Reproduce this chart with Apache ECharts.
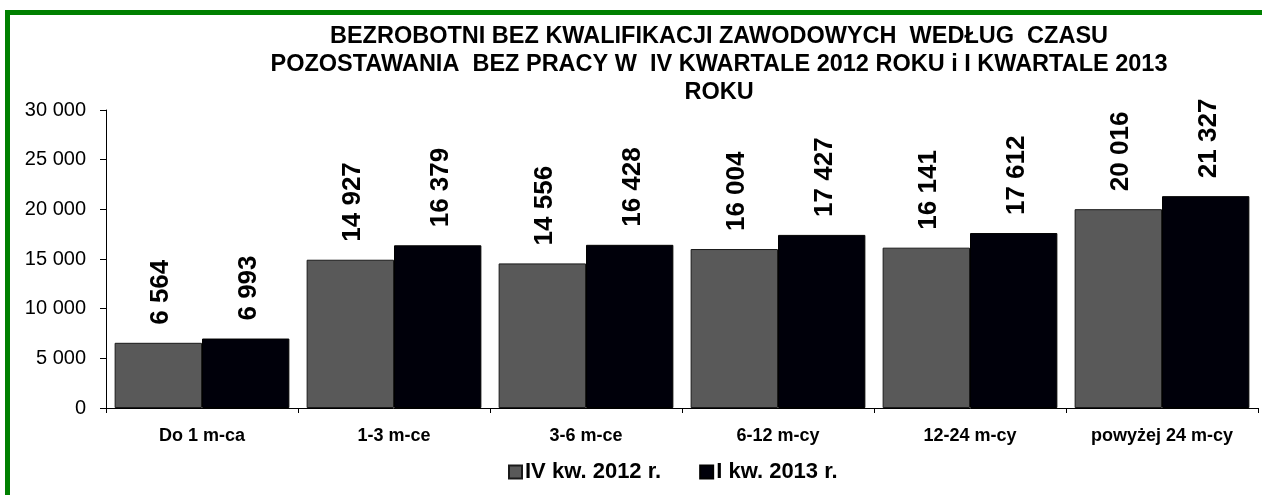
<!DOCTYPE html>
<html>
<head>
<meta charset="utf-8">
<script src="https://cdn.jsdelivr.net/npm/echarts@6/dist/echarts.min.js"></script>
<style>
    body { margin: 0; background: #fff; }
    #chart { width: 1262px; height: 495px; }
</style>
</head>
<body>
<div id="chart"></div>
<script>
    // dane z wykresu
    var categories = ['Do 1 m-ca', '1-3 m-ce', '3-6 m-ce', '6-12 m-cy', '12-24 m-cy', 'powyżej 24 m-cy'];
    var kw4_2012 = [6564, 14927, 14556, 16004, 16141, 20016];
    var kw1_2013 = [6993, 16379, 16428, 17427, 17612, 21327];
    var seriesNames = ['IV kw. 2012 r.', 'I kw. 2013 r.'];

    // 16379 -> "16 379"
    function fmt(v) {
        return String(v).replace(/\B(?=(\d{3})+(?!\d))/g, ' ');
    }

    var chart = echarts.init(document.getElementById('chart'));
    var labelStyle = {
        show: true,
        position: 'top',
        rotate: 90,
        distance: 17,
        offset: [1, 3],
        align: 'left',
        verticalAlign: 'middle',
        fontFamily: 'Liberation Sans, Arial',
        fontWeight: 'bold',
        fontSize: 26,
        color: '#000',
        formatter: function (p) { return fmt(p.value); }
    };
    var option = {
        animation: false,
        title: {
            text: 'BEZROBOTNI BEZ KWALIFIKACJI ZAWODOWYCH  WEDŁUG  CZASU\nPOZOSTAWANIA  BEZ PRACY W  IV KWARTALE 2012 ROKU i I KWARTALE 2013\nROKU',
            left: 714,
            top: 18,
            textAlign: 'center',
            textStyle: {
                fontFamily: 'Liberation Sans, Arial',
                fontWeight: 'bold',
                fontSize: 23.5,
                lineHeight: 28,
                color: '#000'
            }
        },
        graphic: [{
            type: 'rect',
            shape: { x: 7.5, y: 12.5, width: 2000, height: 2000 },
            style: { fill: 'none', stroke: '#008000', lineWidth: 5 },
            silent: true
        }],
        legend: {
            bottom: 7,
            left: 503,
            itemWidth: 13,
            itemHeight: 13,
            itemGap: 38,
            icon: 'rect',
            data: seriesNames,
            textStyle: {
                fontFamily: 'Liberation Sans, Arial',
                fontWeight: 'bold',
                fontSize: 22,
                color: '#000',
                padding: [0, 0, 0, -2]
            }
        },
        grid: { left: 106, right: 4, top: 110, bottom: 87 },
        xAxis: {
            type: 'category',
            data: categories,
            axisLine: { lineStyle: { color: '#000' } },
            axisTick: { show: true, interval: 0, alignWithLabel: false, length: 5, lineStyle: { color: '#000' } },
            axisLabel: {
                interval: 0,
                margin: 19,
                fontFamily: 'Liberation Sans, Arial',
                fontWeight: 'bold',
                fontSize: 18,
                color: '#000'
            }
        },
        yAxis: {
            type: 'value',
            min: 0,
            max: 30000,
            interval: 5000,
            splitLine: { show: false },
            axisLine: { show: true, lineStyle: { color: '#000' } },
            axisTick: { show: true, length: 6, lineStyle: { color: '#000' } },
            axisLabel: {
                margin: 20,
                fontFamily: 'Liberation Sans, Arial',
                fontSize: 20,
                color: '#000',
                formatter: fmt
            }
        },
        series: [
            {
                name: seriesNames[0],
                type: 'bar',
                barGap: '0%',
                barCategoryGap: '9%',
                itemStyle: { color: '#595959', borderColor: '#1a1a1a', borderWidth: 1 },
                label: labelStyle,
                data: kw4_2012
            },
            {
                name: seriesNames[1],
                type: 'bar',
                barGap: '0%',
                barCategoryGap: '9%',
                itemStyle: { color: '#00000a', borderColor: '#000', borderWidth: 1 },
                label: labelStyle,
                data: kw1_2013
            }
        ]
    };
    chart.setOption(option);
</script>
</body>
</html>
